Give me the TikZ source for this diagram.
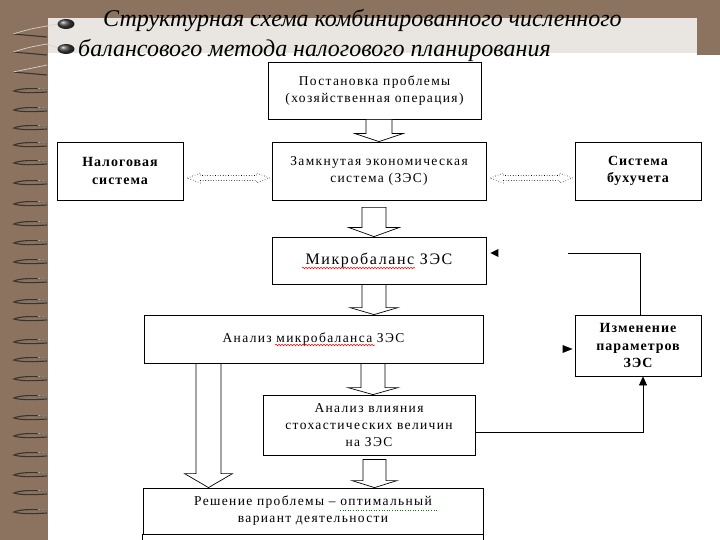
\documentclass[tikz,border=0pt]{standalone}
\usepackage{fontspec}
\setmainfont{Liberation Serif}
\newfontfamily\bxf[LetterSpace=10]{Liberation Serif}
\newfontfamily\bbf[LetterSpace=7]{Liberation Serif}
\usetikzlibrary{calc,decorations.pathmorphing,arrows.meta}
\definecolor{brownbg}{HTML}{8B7360}
\definecolor{bandc}{HTML}{E9E5E1}
\definecolor{ringc}{HTML}{3A342E}
\definecolor{ringhi}{HTML}{D8D4CE}
\tikzset{
  box/.style={draw, line width=0.8pt, fill=white, inner sep=0pt, align=center,
    font=\bxf\fontsize{13.5}{17}\selectfont},
  bbox/.style={box, font=\bbf\bfseries\fontsize{14}{17.5}\selectfont},
  blk/.style={draw, line width=0.7pt, fill=white, line join=miter},
  dotarr/.style={draw, line width=0.6pt, dotted, fill=white},
  fb/.style={draw, line width=0.8pt},
  ttl/.style={inner sep=0pt, anchor=west, font=\itshape\fontsize{24}{28}\selectfont},
  wavy/.style={line width=0.5pt, decorate, decoration={snake, amplitude=0.8pt, segment length=3pt}},
}
\newcommand\blkarr[7]{%
  \draw[blk] let \p1=(#1.south), \p2=(#2.north) in
    (#3pt-#4pt,\y1-#7pt) -- (#3pt-#4pt,\y2+#6pt) -- (#3pt-#5pt,\y2+#6pt) -- (#3pt,\y2)
    -- (#3pt+#5pt,\y2+#6pt) -- (#3pt+#4pt,\y2+#6pt) -- (#3pt+#4pt,\y1-#7pt) -- cycle;}
\newcommand\dblarr[2]{%
  \draw[dotarr] let \p1=(#1.east), \p2=(#2.west) in
    (\x1+4pt,\y1-7pt) -- (\x1+17pt,\y1-2pt) -- (\x1+17pt,\y1-4.5pt) -- (\x2-15pt,\y1-4.5pt)
    -- (\x2-15pt,\y1-2pt) -- (\x2-2pt,\y1-7pt) -- (\x2-15pt,\y1-12pt) -- (\x2-15pt,\y1-9.5pt)
    -- (\x1+17pt,\y1-9.5pt) -- (\x1+17pt,\y1-12pt) -- cycle;}
\begin{document}
\begin{tikzpicture}[x=1pt,y=-1pt]
\useasboundingbox (0,0) rectangle (720,540);
\fill[white] (0,0) rectangle (720,540);
\fill[brownbg] (0,0) rectangle (720,18);
\fill[brownbg] (0,0) rectangle (48,540);
\fill[brownbg] (697,0) rectangle (720,55);
\fill[bandc] (48,18) rectangle (697,53);
% spiral rings
\foreach \r in {91,110,128,145,163,183,204,224,243,262,281,302,319,342,360,379,398,418,436,455,475,493,512}{
  \draw[ringc, line width=1.1pt] (47,\r-1.5) .. controls (30,\r-3.5) and (18,\r-2) .. (14,\r)
     .. controls (20,\r+2) and (32,\r+2) .. (47,\r+1);
  \draw[ringhi, line width=0.6pt] (38,\r-2.3) -- (47,\r-1.8);
}
\foreach \r/\d in {34/5,52/5,72/4}{
  \draw[ringc, line width=1.1pt] (47,\r+3) .. controls (30,\r+2) .. (13,\r);
  \draw[ringhi, line width=0.7pt] (13,\r) .. controls (30,\r-\d) .. (47,\r-\d-3);
}
\draw[ringhi, line width=0.7pt] (47,26) -- (58,24);
\draw[ringhi, line width=0.7pt] (47,44) -- (58,48);
\shade[ball color=black!75] (66,24) ellipse [x radius=8.5, y radius=5];
\shade[ball color=black!75] (66,49) ellipse [x radius=8.5, y radius=5];
% title
\node[ttl] (t1) at (103,21) {Структурная схема комбинированного численного};
\node[ttl] (t2) at (78,50) {балансового метода налогового планирования};
% boxes
\node[box, minimum width=213pt, minimum height=57pt] (p1) at (374.5,90.5)
  {Постановка проблемы\\(хозяйственная операция)};
\node[bbox, minimum width=126pt, minimum height=58pt] (tax) at (120,171) {Налоговая\\система};
\node[box, minimum width=214pt, minimum height=58pt] (zes) at (379,171)
  {Замкнутая экономическая\\система (ЗЭС)};
\node[bbox, minimum width=126pt, minimum height=58pt] (buh) at (638,171) {Система\\бухучета};
\node[box, minimum width=214pt, minimum height=47pt, font=\bxf\fontsize{16}{18}\selectfont] (micro) at (379,260.5)
  {Микробаланс ЗЭС};
\node[box, minimum width=339pt, minimum height=48pt] (an) at (313.5,339)
  {Анализ микробаланса ЗЭС};
\node[box, minimum width=212pt, minimum height=60pt] (stoch) at (369,425)
  {Анализ влияния\\стохастических величин\\на ЗЭС};
\node[box, minimum width=340pt, minimum height=46pt] (res) at (313,511)
  {Решение проблемы – оптимальный\\вариант деятельности};
\draw[line width=0.8pt] (res.south west) -- ++(0,6) (res.south east) -- ++(0,6);
\node[bbox, minimum width=126pt, minimum height=61pt] (chg) at (638,345.5)
  {Изменение\\параметров\\ЗЭС};
% block arrows
\blkarr{p1}{zes}{379}{13}{24}{8}{0}
\blkarr{zes}{micro}{374}{12}{25}{9}{7}
\blkarr{micro}{an}{374}{12}{24}{7}{0}
\blkarr{an}{stoch}{373}{12}{25}{7}{0}
\blkarr{stoch}{res}{374.5}{11.5}{22.5}{7}{4}
\blkarr{an}{res}{208.5}{12.5}{24}{14}{0}
% dotted double arrows
\dblarr{tax}{zes}
\dblarr{zes}{buh}
% feedback
\draw[fb, -{Triangle[length=9pt,width=8pt]}] ([yshift=-7pt]stoch.east) -| ([xshift=5pt]chg.south);
\coordinate (fbend) at (568,253);
\draw[fb] ([xshift=2pt]chg.north) |- (fbend);
\fill ([xshift=4pt,yshift=7.5pt]micro.east) -- ++(8,-4) -- ++(0,8) -- cycle;
\fill ([xshift=-2pt,yshift=-3.5pt]chg.west) -- ++(-10,-4) -- ++(0,8) -- cycle;
% spelling marks
\draw[wavy, red] (302,268) -- (415,268);
\draw[wavy, red] (275,345) -- (375,345);
\draw[green!50!black, line width=0.6pt, dotted] (340,510) -- (437,510);
\end{tikzpicture}
\end{document}
